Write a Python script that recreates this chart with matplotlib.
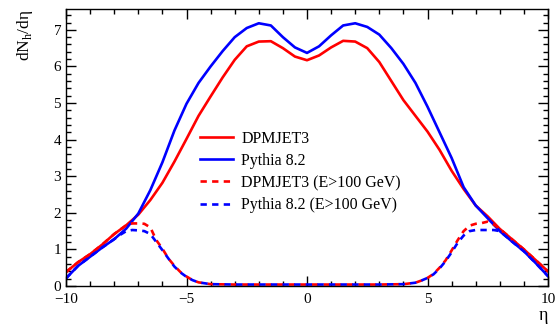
import matplotlib
matplotlib.use("Agg")
import matplotlib.pyplot as plt
from matplotlib.ticker import MultipleLocator

eta = [-10, -9.5, -9, -8.5, -8, -7.5, -7, -6.5, -6, -5.5, -5, -4.5, -4, -3.5, -3, -2.5, -2, -1.5, -1, -0.5,
       0, 0.5, 1, 1.5, 2, 2.5, 3, 3.5, 4, 4.5, 5, 5.5, 6, 6.5, 7, 7.5, 8, 8.5, 9, 9.5, 10]

dpmjet = [0.38, 0.65, 0.87, 1.13, 1.42, 1.66, 1.95, 2.35, 2.82, 3.4, 4.02, 4.65, 5.18, 5.7, 6.18, 6.55, 6.68, 6.69, 6.5, 6.27,
          6.17, 6.3, 6.52, 6.7, 6.68, 6.5, 6.12, 5.6, 5.08, 4.65, 4.22, 3.72, 3.15, 2.65, 2.2, 1.9, 1.56, 1.28, 1.0, 0.7, 0.4]

pythia = [0.21, 0.55, 0.8, 1.05, 1.28, 1.57, 1.98, 2.62, 3.38, 4.25, 4.98, 5.55, 6.0, 6.42, 6.8, 7.05, 7.18, 7.12, 6.8, 6.52,
          6.37, 6.55, 6.85, 7.12, 7.18, 7.08, 6.87, 6.5, 6.07, 5.55, 4.9, 4.2, 3.5, 2.7, 2.2, 1.85, 1.5, 1.22, 0.95, 0.62, 0.27]

eta_d = [-10, -9.5, -9, -8.5, -8, -7.75, -7.5, -7.25, -7, -6.75, -6.5, -6.25, -6, -5.75, -5.5, -5.25, -5, -4.75, -4.5, -4,
         -3, -2, -1, 0, 1, 2, 3, 4, 4.5, 4.75, 5, 5.25, 5.5, 5.75, 6, 6.25, 6.5, 6.75, 7, 7.25, 7.5, 7.75, 8, 8.5, 9, 9.5, 10]

dpmjet_e100 = [0.38, 0.65, 0.87, 1.13, 1.42, 1.54, 1.66, 1.71, 1.71, 1.70, 1.6, 1.25, 1.02, 0.75, 0.55, 0.38, 0.26, 0.16, 0.1, 0.05,
               0.04, 0.04, 0.04, 0.04, 0.04, 0.04, 0.04, 0.05, 0.09, 0.15, 0.22, 0.33, 0.5, 0.7, 0.97, 1.25, 1.5, 1.65, 1.7, 1.72, 1.76, 1.68, 1.56, 1.28, 1.0, 0.7, 0.4]

pythia_e100 = [0.21, 0.55, 0.8, 1.05, 1.28, 1.4, 1.5, 1.53, 1.52, 1.5, 1.42, 1.2, 0.98, 0.75, 0.53, 0.37, 0.25, 0.16, 0.1, 0.05,
               0.04, 0.04, 0.04, 0.04, 0.04, 0.04, 0.04, 0.05, 0.09, 0.15, 0.22, 0.32, 0.48, 0.68, 0.92, 1.18, 1.38, 1.5, 1.53, 1.53, 1.53, 1.53, 1.5, 1.22, 0.95, 0.62, 0.27]

labels = ["DPMJET3", "Pythia 8.2", "DPMJET3 (E>100 GeV)", "Pythia 8.2 (E>100 GeV)"]

plt.rcParams['font.family'] = ['Liberation Serif', 'DejaVu Serif']
plt.rcParams['mathtext.fontset'] = 'custom'
plt.rcParams['mathtext.rm'] = 'Liberation Serif'

fig = plt.figure(figsize=(5.57, 3.25), dpi=100)
ax = fig.add_axes([66/557, 39/325, (548-66)/557, (286-9)/325])

lw = 1.9
dash = (0, (2.4, 2.0))
ax.plot(eta, dpmjet, color='#ff0000', lw=lw, label=labels[0])
ax.plot(eta, pythia, color='#0000ff', lw=lw, label=labels[1])
ax.plot(eta_d, dpmjet_e100, color='#ff0000', lw=lw, ls=dash, label=labels[2])
ax.plot(eta_d, pythia_e100, color='#0000ff', lw=lw, ls=dash, label=labels[3])

ax.set_xlim(-10, 10)
ax.set_ylim(0, 7.57)
ax.xaxis.set_major_locator(MultipleLocator(5))
ax.xaxis.set_minor_locator(MultipleLocator(1))
ax.yaxis.set_major_locator(MultipleLocator(1))
ax.yaxis.set_minor_locator(MultipleLocator(0.2))
ax.tick_params(which='both', direction='in', top=True, right=True, width=1.0, labelsize=11)
ax.tick_params(axis='x', which='major', pad=5)
ax.tick_params(which='major', length=7)
ax.tick_params(which='minor', length=3.5)
for s in ax.spines.values():
    s.set_linewidth(1.0)

ax.set_xlabel('η', fontsize=13, loc='right', labelpad=1)
ax.set_ylabel(r'dN$_{\mathrm{h}}$/dη', fontsize=12.5, loc='top', labelpad=13)

leg = ax.legend(loc='upper left', bbox_to_anchor=(0.264, 0.583), frameon=False, fontsize=11.5,
                handlelength=2.1, handletextpad=0.5, labelspacing=0.38, borderaxespad=0)

fig.savefig('out.png', dpi=100)
